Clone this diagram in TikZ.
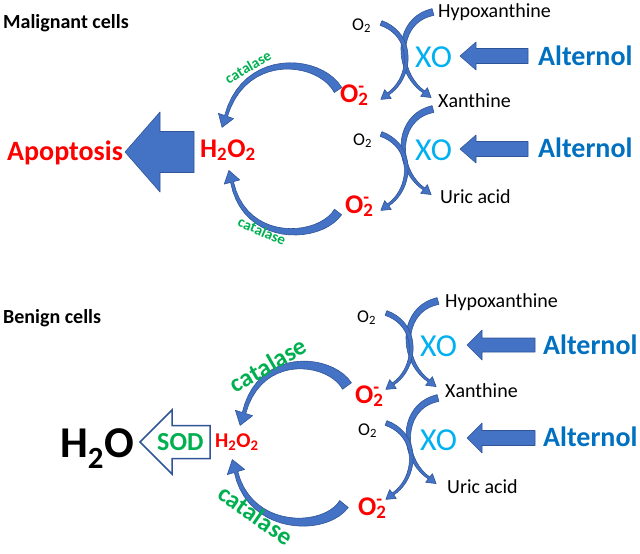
\documentclass[tikz,border=0pt]{standalone}
\usepackage{fontspec}
\setmainfont{Carlito}
\usetikzlibrary{calc}

\definecolor{arrowblue}{HTML}{4472C4}
\definecolor{arrowedge}{HTML}{2F5597}
\definecolor{redc}{HTML}{FF0000}
\definecolor{catc}{HTML}{00B050}
\definecolor{xoc}{HTML}{00B0F0}
\definecolor{altc}{HTML}{0070C0}

\newcommand{\fsz}[1]{\fontsize{#1}{#1}\selectfont}

% tapered curved arrow: start, control 1, control 2, end, tail half width, end half width, head half width, head length
\newcommand{\bentarrow}[8]{%
  \path (#1) .. controls (#2) and (#3) .. (#4)
    \foreach[evaluate=\s as \tpos using \s/20] \s in {0,...,20} {coordinate[pos=\tpos] (p\s)};
  \foreach \s in {0,...,19} {%
    \pgfmathsetmacro{\hw}{#5+(#6-#5)*\s/20}%
    \pgfmathtruncatemacro{\nx}{\s+1}%
    \coordinate (l\s) at ($(p\s)!\hw pt!90:(p\nx)$);
    \coordinate (r\s) at ($(p\s)!\hw pt!-90:(p\nx)$);
  }
  \coordinate (l20) at ($(p20)!#6pt!-90:(p19)$);
  \coordinate (r20) at ($(p20)!#6pt!90:(p19)$);
  \coordinate (hl) at ($(p20)!#7pt!-90:(p19)$);
  \coordinate (hr) at ($(p20)!#7pt!90:(p19)$);
  \coordinate (ht) at ($(p20)!-#8pt!(p19)$);
  \filldraw[pathblue] (l0) \foreach \s in {1,...,20} {-- (l\s)} -- (hl) -- (ht) -- (hr)
    \foreach \s in {20,...,0} {-- (r\s)} -- cycle;
}

% block arrow pointing left: tip x, y, head base x, head half, shaft half, right x
\newcommand{\blockarrow}[7][pathblue]{%
  \filldraw[#1] (#2,#3) -- (#4,#3-#5) -- (#4,#3-#6) -- (#7,#3-#6)
    -- (#7,#3+#6) -- (#4,#3+#6) -- (#4,#3+#5) -- cycle;
}

\tikzset{
  pathblue/.style={fill=arrowblue, draw=arrowedge, line width=0.6pt, line join=round},
  hollow/.style={fill=white, draw=arrowedge, line width=1.5pt},
  txt/.style={inner sep=0pt, anchor=base west},
  cat/.style={inner sep=0pt, text=catc, font=#1\bfseries},
}

\begin{document}
\begin{tikzpicture}[x=1pt, y=-1pt]
  \useasboundingbox (0,0) rectangle (640,554);

  % arrows malignant cells
  \blockarrow{125}{152}{160}{40}{20.5}{194}
  \blockarrow{460}{56}{476}{14}{7.5}{528}
  \blockarrow{460}{149}{476}{14}{7.5}{528}
  \bentarrow{338,90}{320,58}{245,50}{226,116}{4.5}{1.5}{8}{12}
  \bentarrow{338,212}{320,240}{245,245}{232,182}{4.5}{1.5}{8}{12}
  \bentarrow{433,12}{395,20}{395,72}{424,92}{3.5}{1.2}{5.5}{9}
  \bentarrow{381,23}{415,35}{412,78}{388,94}{2.5}{1.2}{5.5}{9}
  \bentarrow{433,109}{395,117}{395,169}{424,189}{3.5}{1.2}{5.5}{9}
  \bentarrow{381,134}{415,146}{412,189}{388,205}{2.5}{1.2}{5.5}{9}

  % labels malignant cells
  \node[txt, font=\fsz{20}\bfseries] (maltitle) at (3,28) {Malignant cells};
  \node[txt, text=redc, font=\fsz{28}\bfseries] (apop) at (7,160) {Apoptosis};
  \node[txt, text=redc, font=\fsz{27}\bfseries] (peroxa) at (200,157) {H\textsubscript{2}O\textsubscript{2}};
  \node[txt, text=redc, font=\fsz{27}\bfseries] (supa) at (340,102) {O\rlap{\textsuperscript{-}}\textsubscript{2}};
  \node[txt, text=redc, font=\fsz{27}\bfseries] (supb) at (345,213) {O\rlap{\textsuperscript{-}}\textsubscript{2}};
  \node[txt, font=\fsz{18}] (oxa) at (352,30) {O\textsubscript{2}};
  \node[txt, font=\fsz{18}] (oxb) at (353,145) {O\textsubscript{2}};
  \node[txt, font=\fsz{20}] (hypoa) at (438,17) {Hypoxanthine};
  \node[txt, font=\fsz{20}] (xana) at (438,107) {Xanthine};
  \node[txt, font=\fsz{20}] (urica) at (440,203) {Uric acid};
  \node[txt, text=xoc, font=\fsz{32}] (xoa) at (415,67) {XO};
  \node[txt, text=xoc, font=\fsz{32}] (xob) at (415,160) {XO};
  \node[txt, text=altc, font=\fsz{28}\bfseries] (alta) at (538,65) {Alternol};
  \node[txt, text=altc, font=\fsz{28}\bfseries] (altb) at (538,157) {Alternol};
  \node[cat=\fsz{15}, rotate=30] (cata) at (248,67) {catalase};
  \node[cat=\fsz{15}, rotate=-24] (catb) at (262,231) {catalase};

  % arrows benign cells
  \blockarrow[hollow]{140}{442}{172}{32}{16.5}{210}
  \blockarrow{467}{345}{482}{15}{7}{535}
  \blockarrow{467}{438}{482}{15}{7.5}{535}
  \bentarrow{347,386}{330,358}{260,350}{244,413}{5.5}{1.8}{9}{13}
  \bentarrow{344,504}{325,532}{250,532}{236,472}{5.5}{1.8}{9}{13}
  \bentarrow{438,301}{400,309}{400,361}{429,381}{3.5}{1.2}{5.5}{9}
  \bentarrow{386,313}{420,325}{417,368}{393,384}{2.5}{1.2}{5.5}{9}
  \bentarrow{438,398}{400,406}{400,458}{429,478}{3.5}{1.2}{5.5}{9}
  \bentarrow{386,423}{420,435}{417,478}{393,494}{2.5}{1.2}{5.5}{9}

  % labels benign cells
  \node[txt, font=\fsz{20}\bfseries] (bentitle) at (3,323) {Benign cells};
  \node[txt, font=\fsz{44}\bfseries] (water) at (60,457) {H\textsubscript{2}O};
  \node[txt, text=catc, font=\fsz{26}\bfseries] (sod) at (157,450) {SOD};
  \node[txt, text=redc, font=\fsz{21}\bfseries] (peroxb) at (215,447) {H\textsubscript{2}O\textsubscript{2}};
  \node[txt, text=redc, font=\fsz{27}\bfseries] (supc) at (355,403) {O\rlap{\textsuperscript{-}}\textsubscript{2}};
  \node[txt, text=redc, font=\fsz{27}\bfseries] (supd) at (358,515) {O\rlap{\textsuperscript{-}}\textsubscript{2}};
  \node[txt, font=\fsz{18}] (oxc) at (357,322) {O\textsubscript{2}};
  \node[txt, font=\fsz{18}] (oxd) at (358,435) {O\textsubscript{2}};
  \node[txt, font=\fsz{20}] (hypob) at (445,307) {Hypoxanthine};
  \node[txt, font=\fsz{20}] (xanb) at (445,397) {Xanthine};
  \node[txt, font=\fsz{20}] (uricb) at (447,493) {Uric acid};
  \node[txt, text=xoc, font=\fsz{32}] (xoe) at (420,356) {XO};
  \node[txt, text=xoc, font=\fsz{32}] (xof) at (420,450) {XO};
  \node[txt, text=altc, font=\fsz{28}\bfseries] (alte) at (543,354) {Alternol};
  \node[txt, text=altc, font=\fsz{28}\bfseries] (altf) at (543,446) {Alternol};
  \node[cat=\fsz{25}, rotate=30] (catc) at (268,365) {catalase};
  \node[cat=\fsz{25}, rotate=-35] (catd) at (256,515) {catalase};
\end{tikzpicture}
\end{document}
